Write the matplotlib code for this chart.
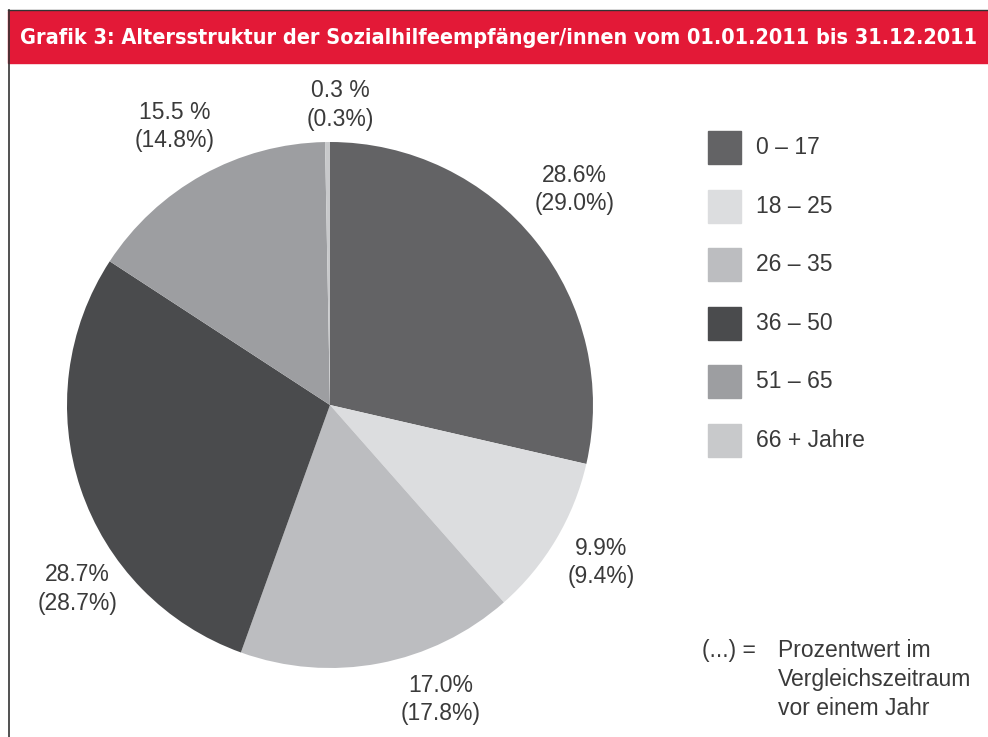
import matplotlib
matplotlib.use("Agg")
import matplotlib.pyplot as plt
from matplotlib.patches import Rectangle
from matplotlib.lines import Line2D

# -------------------------
# data
# -------------------------
groups = ["0 – 17", "18 – 25", "26 – 35", "36 – 50", "51 – 65", "66 + Jahre"]
share_2011 = [28.6, 9.9, 17.0, 28.7, 15.5, 0.3]
share_2010 = [29.0, 9.4, 17.8, 28.7, 14.8, 0.3]
colors = ["#636365", "#dcdddf", "#bcbdc0", "#4a4b4d", "#9d9ea1", "#c8c9cb"]

title = "Grafik 3: Altersstruktur der Sozialhilfeempfänger/innen vom 01.01.2011 bis 31.12.2011"

# label spots around the pie (in pie-radius units)
label_xy = [(0.93, 0.82), (1.03, -0.60), (0.42, -1.12),
            (-0.96, -0.70), (-0.59, 1.06), (0.04, 1.14)]

W, H = 988, 737
TXT = "#3a3a3a"
FONT = ["Liberation Sans", "DejaVu Sans"]
FS = 16.5


def fx(x):
    return x / W


def fy(y):
    return 1 - y / H


fig = plt.figure(figsize=(W / 100, H / 100), dpi=100)

# -------------------------
# frame + red title bar
# -------------------------
fig.patches.append(Rectangle((fx(8), fy(63)), 1 - fx(8), fy(11) - fy(63),
                             transform=fig.transFigure, color="#e31937", zorder=0))
fig.lines.append(Line2D([fx(8), 1], [fy(10), fy(10)], transform=fig.transFigure,
                        color="#333333", linewidth=1.0))
fig.lines.append(Line2D([fx(8.5), fx(8.5)], [fy(10), 0], transform=fig.transFigure,
                        color="#333333", linewidth=1.2))

t = fig.text(fx(20), fy(44), title, color="white", fontsize=15, fontweight="bold",
             family="DejaVu Sans", fontstretch="condensed", va="baseline", ha="left")
# stretch title to the bar width
fig.canvas.draw()
bb = t.get_window_extent()
t.set_fontsize(15 * (958 / bb.width))

# -------------------------
# pie
# -------------------------
cx, cy, r = 330, 405, 263
ax = fig.add_axes([fx(cx - r), fy(cy + r), 2 * r / W, 2 * r / H])
ax.pie(share_2011, colors=colors, startangle=90, counterclock=False, radius=1,
       wedgeprops={"linewidth": 0})
ax.set_xlim(-1, 1)
ax.set_ylim(-1, 1)
ax.set_aspect("equal")
ax.axis("off")

for i, (x, y) in enumerate(label_xy):
    if share_2011[i] < 1 or i == 4:
        first = f"{share_2011[i]:.1f} %"
    else:
        first = f"{share_2011[i]:.1f}%"
    ax.text(x, y, f"{first}\n({share_2010[i]:.1f}%)", ha="center", va="center",
            fontsize=FS, color=TXT, family=FONT, linespacing=1.3, clip_on=False)

# -------------------------
# legend (hand placed)
# -------------------------
for i, g in enumerate(groups):
    top = 131 + i * 58.6
    fig.patches.append(Rectangle((fx(708), fy(top + 33)), 33 / W, 33 / H,
                                 transform=fig.transFigure, color=colors[i]))
    fig.text(fx(756), fy(top + 16.5), g, fontsize=FS, color=TXT, family=FONT,
             va="center", ha="left")

fig.text(fx(702), fy(657), "(...) =", fontsize=FS, color=TXT, family=FONT,
         va="baseline", ha="left")
note = ["Prozentwert im", "Vergleichszeitraum", "vor einem Jahr"]
for k, line in enumerate(note):
    fig.text(fx(778), fy(657 + 29 * k), line, fontsize=FS, color=TXT,
             family=FONT, va="baseline", ha="left")

fig.savefig("out.png", dpi=100)
